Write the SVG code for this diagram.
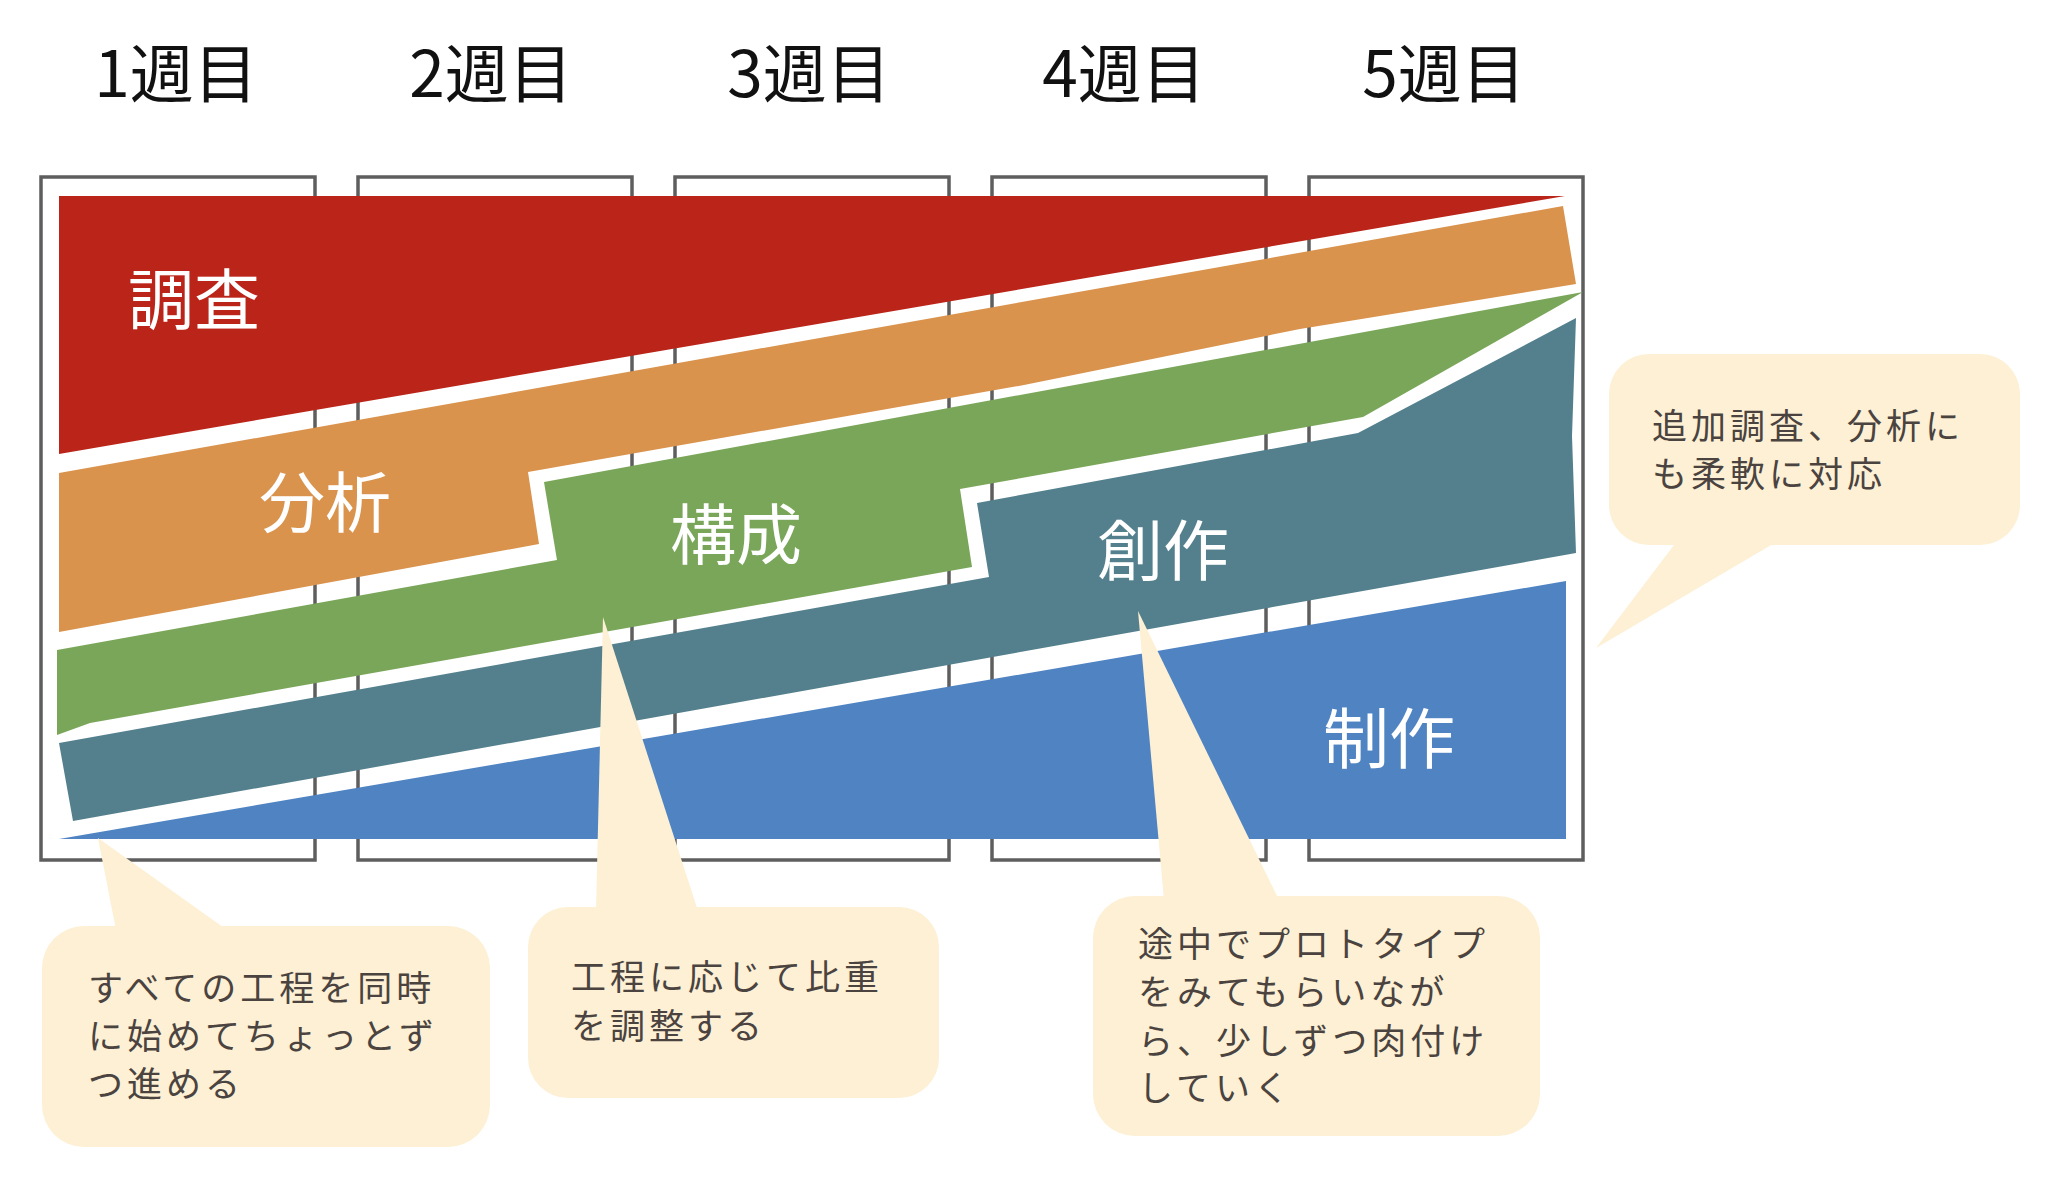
<svg xmlns="http://www.w3.org/2000/svg" width="2048" height="1196" viewBox="0 0 2048 1196">
<style>
.week{font-family:"Noto Sans CJK JP","Liberation Sans",sans-serif;font-size:64px;fill:#111;text-anchor:middle}
.box{fill:#fff;stroke:#5e5e5e;stroke-width:3.5}
.lbl{font-family:"Noto Sans CJK JP","Liberation Sans",sans-serif;font-size:66px;fill:#fff;text-anchor:middle}
.co{fill:#fdf0d4}
.ct{font-family:"Noto Sans CJK JP","Liberation Sans",sans-serif;font-size:35px;fill:#4a4340;letter-spacing:4px}
</style>
<rect width="2048" height="1196" fill="#fff"/>
<g id="weeks">
<text class="week" x="176" y="97">1週目</text>
<text class="week" x="491" y="97">2週目</text>
<text class="week" x="809" y="97">3週目</text>
<text class="week" x="1124" y="97">4週目</text>
<text class="week" x="1444" y="97">5週目</text>
</g>
<g id="week-boxes">
<rect class="box" x="41" y="177" width="274" height="683"/>
<rect class="box" x="358" y="177" width="274" height="683"/>
<rect class="box" x="675" y="177" width="274" height="683"/>
<rect class="box" x="992" y="177" width="274" height="683"/>
<rect class="box" x="1309" y="177" width="274" height="683"/>
</g>
<g id="chousa">
<polygon fill="#bb2419" points="59,196 1565,196 59,454"/>
<text class="lbl" x="194" y="324">調査</text>
</g>
<g id="bunseki">
<polygon fill="#d9934d" points="59,473 1563,206 1576,284 1300,329 1024,385 528,472 539,544 59,632"/>
<text class="lbl" x="325" y="527">分析</text>
</g>
<g id="kousei">
<polygon fill="#7aa65a" points="544,482 1583,292 1363,417 960,489 972,567 90,723 57,735 57,650 557,560"/>
<text class="lbl" x="736" y="559">構成</text>
</g>
<g id="sousaku">
<polygon fill="#54808e" points="977,503 1358,433 1576,318 1572,436 1576,553 73,821 59,743 989,577"/>
<text class="lbl" x="1163" y="575">創作</text>
</g>
<g id="seisaku">
<polygon fill="#4f83c2" points="59,839 1566,581 1566,839"/>
<text class="lbl" x="1389" y="763">制作</text>
</g>
<g id="callout-1">
<rect class="co" x="42" y="926" width="448" height="221" rx="42"/>
<polygon class="co" points="116,930 98,838 227,930"/>
<text class="ct" x="88" y="1001">すべての工程を同時</text>
<text class="ct" x="88" y="1049">に始めてちょっとず</text>
<text class="ct" x="88" y="1097">つ進める</text>
</g>
<g id="callout-2">
<rect class="co" x="528" y="907" width="411" height="191" rx="40"/>
<polygon class="co" points="596,911 603,617 698,911"/>
<text class="ct" x="571" y="990">工程に応じて比重</text>
<text class="ct" x="571" y="1039">を調整する</text>
</g>
<g id="callout-3">
<rect class="co" x="1093" y="896" width="447" height="240" rx="42"/>
<polygon class="co" points="1164,900 1138,611 1279,900"/>
<text class="ct" x="1138" y="957">途中でプロトタイプ</text>
<text class="ct" x="1138" y="1005">をみてもらいなが</text>
<text class="ct" x="1138" y="1054">ら、少しずつ肉付け</text>
<text class="ct" x="1138" y="1101">していく</text>
</g>
<g id="callout-4">
<rect class="co" x="1609" y="354" width="411" height="191" rx="40"/>
<polygon class="co" points="1677,541 1596,648 1778,541"/>
<text class="ct" x="1652" y="439">追加調査、分析に</text>
<text class="ct" x="1652" y="487">も柔軟に対応</text>
</g>
<g id="connectors"></g>
</svg>
